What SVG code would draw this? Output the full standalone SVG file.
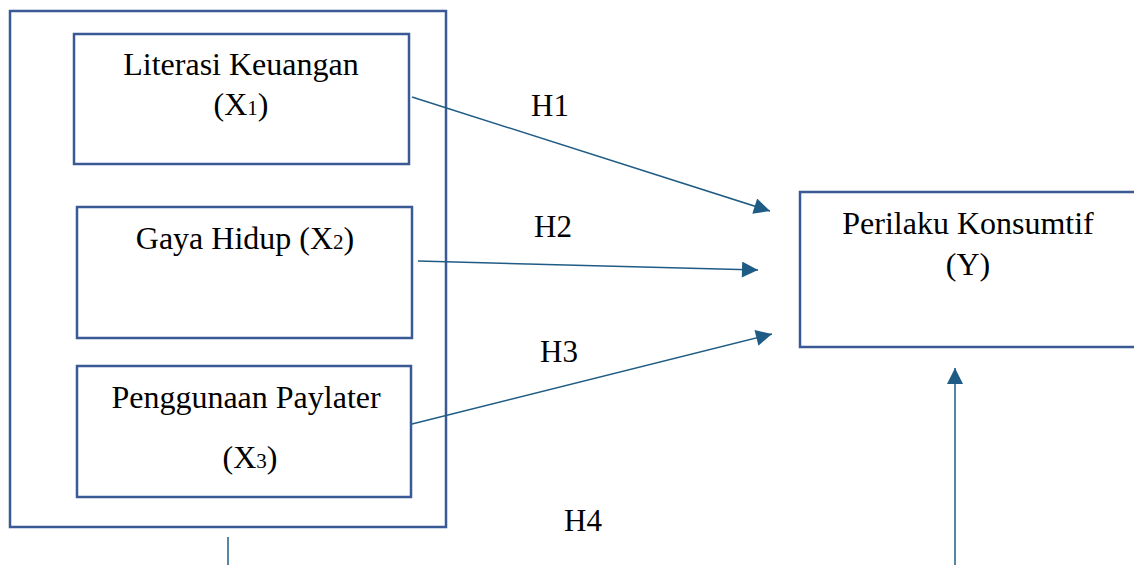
<svg xmlns="http://www.w3.org/2000/svg" width="1134" height="565" viewBox="0 0 1134 565">
<defs>
<style>
.box{fill:#fff;stroke:#3A5A96;stroke-width:2.5}
.t{font-family:"Liberation Serif","Times New Roman",serif;font-size:32px;fill:#000;text-anchor:middle}
.h{font-family:"Liberation Serif","Times New Roman",serif;font-size:31px;fill:#000}
.s{font-size:21px}
.c{stroke:#1F5C85;stroke-width:1.5;fill:none}
</style>
<marker id="ah" viewBox="0 0 10 10" refX="10" refY="5" markerWidth="19" markerHeight="16" markerUnits="userSpaceOnUse" orient="auto">
<path d="M0,0 L10,5 L0,10 z" fill="#1F5C85"/>
</marker>
</defs>
<rect width="1134" height="565" fill="#fff"/>
<g id="group-x">
<rect class="box" x="10" y="11" width="436" height="516"/>
</g>
<g id="node-x1">
<rect class="box" x="74" y="34" width="335" height="130"/>
<text class="t" x="241" y="75">Literasi Keuangan</text>
<text class="t" x="241" y="115">(X<tspan class="s">1</tspan>)</text>
</g>
<g id="node-x2">
<rect class="box" x="77" y="207" width="335" height="131"/>
<text class="t" x="245" y="249">Gaya Hidup (X<tspan class="s">2</tspan>)</text>
</g>
<g id="node-x3">
<rect class="box" x="77" y="366" width="334" height="131"/>
<text class="t" x="246" y="408">Penggunaan Paylater</text>
<text class="t" x="250" y="468">(X<tspan class="s">3</tspan>)</text>
</g>
<g id="node-y">
<rect class="box" x="800" y="192" width="340" height="155"/>
<text class="t" x="968" y="234">Perilaku Konsumtif</text>
<text class="t" x="968" y="275">(Y)</text>
</g>
<g id="connectors">
<line class="c" x1="412" y1="97" x2="770" y2="211" marker-end="url(#ah)"/>
<line class="c" x1="418" y1="261" x2="758" y2="270" marker-end="url(#ah)"/>
<line class="c" x1="412" y1="424" x2="772" y2="334" marker-end="url(#ah)"/>
<line class="c" x1="955" y1="565" x2="955" y2="368" marker-end="url(#ah)"/>
<line class="c" x1="228" y1="537" x2="228" y2="565"/>
</g>
<g id="labels">
<text class="h" x="531" y="116">H1</text>
<text class="h" x="534" y="237">H2</text>
<text class="h" x="540" y="362">H3</text>
<text class="h" x="564" y="531">H4</text>
</g>
</svg>
